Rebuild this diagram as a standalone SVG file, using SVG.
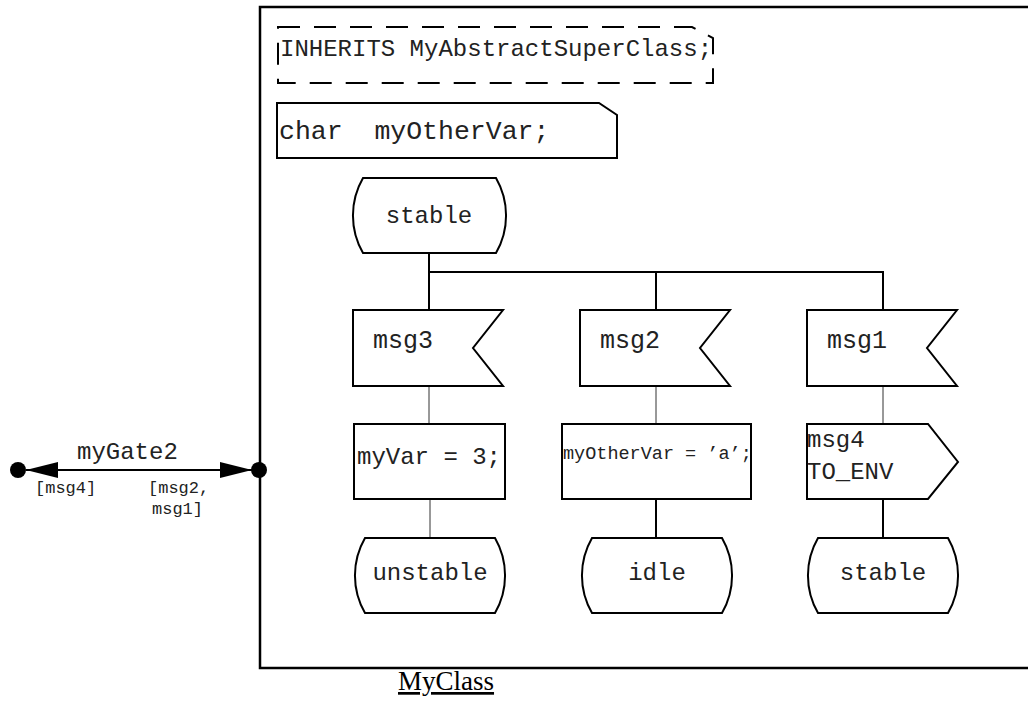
<svg xmlns="http://www.w3.org/2000/svg" width="1028" height="716" viewBox="0 0 1028 716">
<defs>
<style>
.s{fill:#fff;stroke:#000;stroke-width:2}
.t{font-family:"Liberation Mono","Courier New",monospace;font-size:24px;fill:#222;white-space:pre}
.m{text-anchor:middle}
.c{stroke:#000;stroke-width:2;fill:none}
.thin{stroke:#333;stroke-width:1;fill:none}
</style>
<marker id="ah" viewBox="0 0 32 16" refX="32" refY="8" markerWidth="32" markerHeight="16" markerUnits="userSpaceOnUse" orient="auto-start-reverse">
<path d="M0,0 L32,8 L0,16 z" fill="#000"/>
</marker>
</defs>
<rect width="1028" height="716" fill="#fff"/>
<g id="frame">
<rect x="260" y="7" width="800" height="661" fill="none" stroke="#000" stroke-width="2.5"/>
<text x="398" y="690" font-family="Liberation Serif,Times New Roman,serif" font-size="27" fill="#000" text-decoration="underline">MyClass</text>
</g>
<g id="inherits">
<path d="M278,27 H692 L713,38 V83 H278 Z" fill="none" stroke="#000" stroke-width="2" stroke-dasharray="22,14"/>
<text class="t" x="280" y="56">INHERITS MyAbstractSuperClass;</text>
</g>
<g id="decl">
<path class="s" d="M277,103 H599 L617,115 V158 H277 Z"/>
<text class="t" x="279" y="139" style="font-size:26.5px" xml:space="preserve">char  myOtherVar;</text>
</g>
<g id="connectors">
<path class="c" d="M429,253 V310 M429,272 H883 V310 M656,272 V310"/>
<path class="thin" d="M429,386 V424 M656,386 V424 M883,386 V424 M430,499 V542"/>
<path class="c" d="M656,499 V537 M883,499 V537"/>
<line x1="26" y1="470" x2="252" y2="470" stroke="#000" stroke-width="2" marker-start="url(#ah)" marker-end="url(#ah)"/>
</g>
<g id="gate">
<circle cx="18" cy="470" r="8" fill="#000"/>
<circle cx="259" cy="470" r="8" fill="#000"/>
<text class="t" x="77" y="459">myGate2</text>
<text class="t" x="35" y="493" style="font-size:17px">[msg4]</text>
<text class="t" x="148" y="493" style="font-size:17px">[msg2,</text>
<text class="t" x="152" y="514" style="font-size:17px">msg1]</text>
</g>
<g id="state_stable_top">
<path class="s" d="M363,178 H496 A75,75 0 0 1 496,253 H363 A75,75 0 0 1 363,178 Z"/>
<text class="t m" x="429" y="223">stable</text>
</g>
<g id="input_msg3">
<path class="s" d="M353,310 H503 L473,348 L503,386 H353 Z"/>
<text class="t" x="373" y="348" style="font-size:25px">msg3</text>
</g>
<g id="input_msg2">
<path class="s" d="M580,310 H730 L700,348 L730,386 H580 Z"/>
<text class="t" x="600" y="348" style="font-size:25px">msg2</text>
</g>
<g id="input_msg1">
<path class="s" d="M807,310 H957 L927,348 L957,386 H807 Z"/>
<text class="t" x="827" y="348" style="font-size:25px">msg1</text>
</g>
<g id="task_myVar">
<rect class="s" x="354" y="424" width="151" height="75"/>
<text class="t" x="357" y="464">myVar = 3;</text>
</g>
<g id="task_myOtherVar">
<rect class="s" x="562" y="424" width="189" height="75"/>
<text class="t" x="563" y="459" style="font-size:18.5px">myOtherVar = ’a’;</text>
</g>
<g id="output_msg4">
<path class="s" d="M807,424 H928 L958,462 L928,499 H807 Z"/>
<text class="t" x="807" y="447">msg4</text>
<text class="t" x="807" y="479">TO_ENV</text>
</g>
<g id="state_unstable">
<path class="s" d="M365,538 H495 A75,75 0 0 1 495,613 H365 A75,75 0 0 1 365,538 Z"/>
<text class="t m" x="430" y="580">unstable</text>
</g>
<g id="state_idle">
<path class="s" d="M592,538 H722 A75,75 0 0 1 722,613 H592 A75,75 0 0 1 592,538 Z"/>
<text class="t m" x="657" y="580">idle</text>
</g>
<g id="state_stable_bottom">
<path class="s" d="M818,538 H948 A75,75 0 0 1 948,613 H818 A75,75 0 0 1 818,538 Z"/>
<text class="t m" x="883" y="580">stable</text>
</g>
</svg>
